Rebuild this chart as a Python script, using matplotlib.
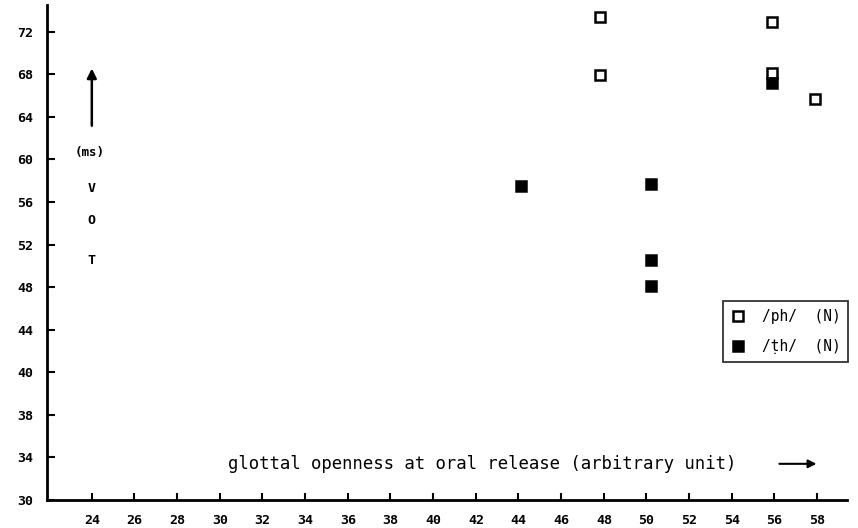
import matplotlib
matplotlib.use("Agg")
import matplotlib.pyplot as plt

# data (VOT in ms vs glottal openness)
ph_x = [47.8, 47.8, 55.9, 55.9, 57.9]
ph_y = [73.4, 67.9, 72.9, 68.1, 65.7]
th_x = [44.1, 50.2, 50.2, 50.2, 55.9]
th_y = [57.5, 57.7, 50.5, 48.1, 67.2]

x_ticks = list(range(24, 59, 2))
y_tick_pos = list(range(28, 73, 4))
y_tick_labels = ["30", "34", "38", "40", "44", "48", "52", "56", "60", "64", "68", "72"]

mono = "DejaVu Sans Mono"
plt.rcParams["font.family"] = mono

fig = plt.figure(figsize=(8.58, 5.28), dpi=100)
ax = fig.add_axes([0.0548, 0.053, 0.9324, 0.9375])

ax.plot(ph_x, ph_y, ls="none", marker="s", ms=7, mfc="white", mec="black", mew=1.8,
        label="/ph/  (N)")
ax.plot(th_x, th_y, ls="none", marker="s", ms=7, mfc="black", mec="black", mew=1.8,
        label="/\u1e6dh/  (N)")

ax.set_xlim(21.9, 59.4)
ax.set_ylim(28, 74.5)
ax.set_xticks(x_ticks)
ax.set_yticks(y_tick_pos)
ax.set_yticklabels(y_tick_labels)
ax.tick_params(axis="x", direction="in", length=5, width=1.5, pad=10, labelsize=9.5)
ax.tick_params(axis="y", direction="in", length=6, width=1.5, pad=10, labelsize=9.5)
for lab in ax.get_xticklabels() + ax.get_yticklabels():
    lab.set_fontweight("bold")

for s in ["top", "right"]:
    ax.spines[s].set_visible(False)
for s in ["left", "bottom"]:
    ax.spines[s].set_linewidth(2)

# VOT label with arrow on the left
ax.annotate("", xy=(24, 68.8), xytext=(24, 62.9),
            arrowprops=dict(arrowstyle="-|>", color="black", lw=1.8, mutation_scale=14))
ax.text(23.9, 60.6, "(ms)", ha="center", va="center", fontsize=9, fontweight="bold")
for lbl, yy in [("V", 57.3), ("O", 54.3), ("T", 50.5)]:
    ax.text(24, yy, lbl, ha="center", va="center", fontsize=9.5, fontweight="bold")

# x axis caption with arrow (y in axis position units: 31.4 sits between "34" and "30")
ax.text(30.4, 31.4, "glottal openness at oral release (arbitrary unit)",
        ha="left", va="center", fontsize=12.4)
ax.annotate("", xy=(58.1, 31.4), xytext=(56.1, 31.4),
            arrowprops=dict(arrowstyle="-|>", color="black", lw=1.5, mutation_scale=12))

leg = fig.legend(loc="upper left", bbox_to_anchor=(0.8427, 0.43), frameon=True,
                 fancybox=False, edgecolor="black", fontsize=10.5, handletextpad=1.1,
                 labelspacing=1.05, borderpad=0.55, handlelength=1.0, borderaxespad=0)
leg.get_frame().set_linewidth(1.3)

fig.savefig("out.png", dpi=100)
